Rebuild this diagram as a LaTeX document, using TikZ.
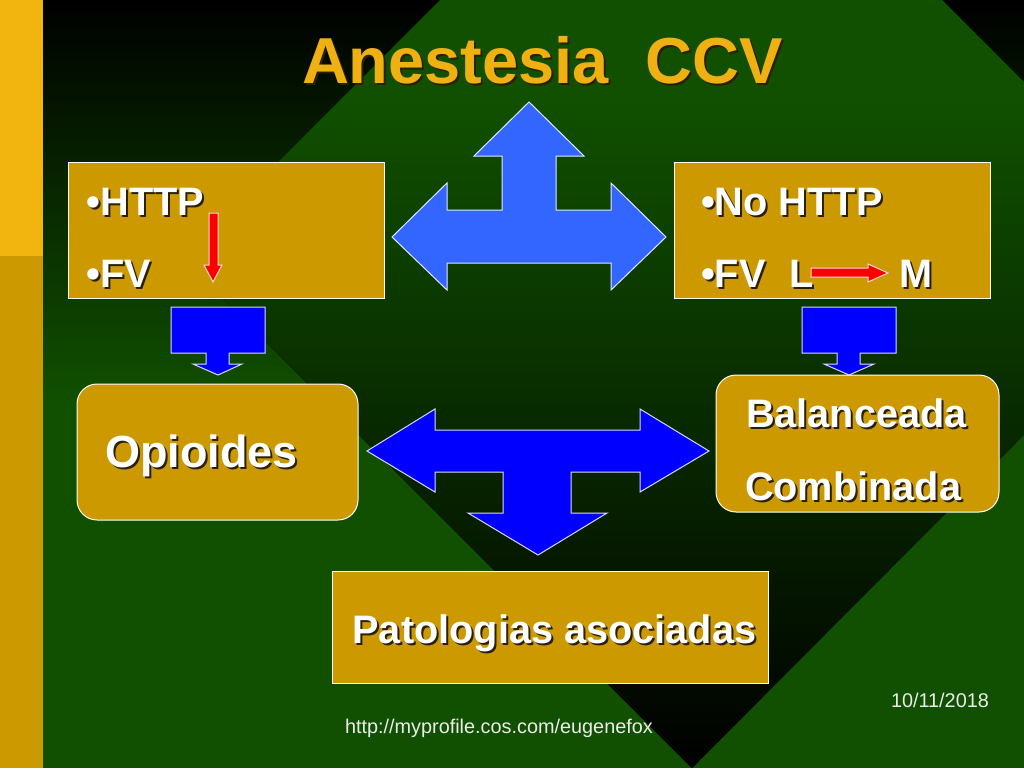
\documentclass[tikz,border=0pt]{standalone}
\usepackage{fontspec}
\setmainfont{Liberation Sans}
\definecolor{gr}{HTML}{105000}
\definecolor{gold}{HTML}{CC9900}
\definecolor{goldhi}{HTML}{F2B50F}
\definecolor{titlec}{HTML}{EEB111}
\definecolor{ltblue}{HTML}{3366FF}
\definecolor{shc}{HTML}{2A2000}
\newcommand{\shtxt}[3][2pt]{\rlap{\kern#1\raisebox{-#1}{\textcolor{shc}{#3}}}\textcolor{#2}{#3}}
\tikzset{
  panel/.style={draw=white,line width=1pt,fill=gold},
  roundpanel/.style={panel,rounded corners=20pt},
  lbl/.style={anchor=base west,inner sep=0pt,outer sep=0pt},
  bodytxt/.style={lbl,font=\fontsize{39.7}{40}\selectfont\bfseries},
  foot/.style={lbl,font=\fontsize{19.85}{20}\selectfont,text=white!92!black},
  arrlight/.style={draw=white!85!ltblue,line width=1pt,fill=ltblue,line join=miter},
  arrblue/.style={draw=white!85!blue,line width=1pt,fill=blue,line join=miter},
  arrred/.style={draw=white!85!red,line width=1pt,fill=red,line join=miter}
}
\begin{document}
\begin{tikzpicture}[x=1pt,y=-1pt]
\useasboundingbox (0,0) rectangle (1024,768);
% background
\shade[top color=black,bottom color=gr] (0,0) rectangle (1024,400);
\fill[gr] (0,399) rectangle (1024,768);
\begin{scope}
  \clip (691,-251) -- (1200,258) -- (692,768) -- (182,258) -- cycle;
  \fill[black] (0,0) rectangle (1024,768);
  \fill[gr] (0,0) rectangle (1024,101);
  \shade[top color=gr,bottom color=black] (0,100) rectangle (1024,768);
\end{scope}
% side strip
\fill[gold] (0,256) rectangle (43,768);
\fill[goldhi] (0,0) rectangle (43,256);
% title
\node[lbl,font=\fontsize{65}{65}\selectfont\bfseries] (title) at (302,83) {\shtxt{titlec}{Anestesia\ \ CCV}};
% block arrows
\draw[arrlight] (529,102) -- (584,156) -- (556,156) -- (556,210) -- (611,210) -- (611,183) -- (666,237) -- (611,290) -- (611,263) -- (447,263) -- (447,290) -- (392,237) -- (447,183) -- (447,210) -- (502,210) -- (502,156) -- (474,156) -- cycle;
\draw[arrblue] (367,451) -- (435,409) -- (435,430) -- (640,430) -- (640,409) -- (709,451) -- (640,492) -- (640,472) -- (571,472) -- (571,513) -- (607,513) -- (538,555) -- (468,513) -- (503,513) -- (503,472) -- (435,472) -- (435,492) -- cycle;
\draw[arrblue] (171,307) -- (265,307) -- (265,353) -- (229,353) -- (229,364) -- (242,364) -- (218,375) -- (193,364) -- (206,364) -- (206,353) -- (171,353) -- cycle;
\draw[arrblue] (802,307) -- (896,307) -- (896,353) -- (860,353) -- (860,364) -- (874,364) -- (849,375) -- (824,364) -- (837,364) -- (837,353) -- (802,353) -- cycle;
% panels
\draw[panel] (68,162) rectangle (384,298);
\draw[panel] (674,162) rectangle (990,298);
\draw[roundpanel] (77,384) rectangle (358,520);
\draw[roundpanel] (716,375) rectangle (999,512);
\draw[panel] (332,571) rectangle (768,683);
% red arrows
\draw[arrred] (209,213) -- (218,213) -- (218,265) -- (222,265) -- (213,282) -- (204,265) -- (209,265) -- cycle;
% panel text
\node[bodytxt] (http) at (86.5,215) {\shtxt{white}{•HTTP}};
\node[bodytxt] (fv) at (86.5,287) {\shtxt{white}{•FV}};
\node[bodytxt] (nohttp) at (701,215) {\shtxt{white}{•No HTTP}};
\node[bodytxt] (fvl) at (701,287) {\shtxt{white}{•FV\ \ \kern2pt L}};
\node[bodytxt] (m) at (899,287) {\shtxt{white}{M}};
\draw[arrred] (811,268) -- (868,268) -- (868,264) -- (888,273) -- (868,282) -- (868,277) -- (811,277) -- cycle;
\node[lbl,font=\fontsize{45}{45}\selectfont\bfseries] (op) at (105,467) {\shtxt{white}{Opioides}};
\node[bodytxt] (bal) at (746,427) {\shtxt{white}{Balanceada}};
\node[bodytxt] (com) at (745,500) {\shtxt{white}{Combinada}};
\node[bodytxt] (pat) at (352.5,643.5) {\shtxt{white}{Patologias asociadas}};
% footer
\node[foot] (url) at (345,733) {http://myprofile.cos.com/eugenefox};
\node[foot] (date) at (891,707) {10/11/2018};
\end{tikzpicture}
\end{document}
